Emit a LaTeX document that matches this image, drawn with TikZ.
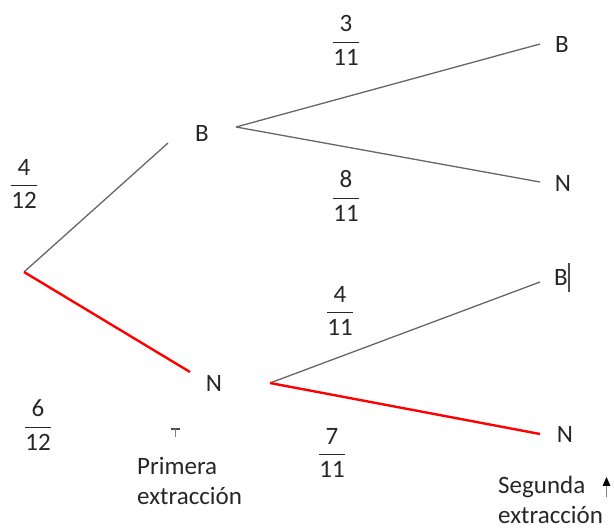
\documentclass[tikz,border=0pt]{standalone}
\usepackage{fontspec}
\setmainfont{Carlito}
\newcommand{\myfr}[2]{\ensuremath{\displaystyle\frac{\mbox{#1}}{\mbox{#2}}}}
\begin{document}
\begin{tikzpicture}[x=1pt,y=-1pt,
  every node/.style={font=\fontsize{25}{30}\selectfont, text=black!85, inner sep=1pt},
  gline/.style={draw=black!60, line width=1.3pt},
  rline/.style={draw=red, line width=2.4pt},
  lbl/.style={align=left, anchor=west}]
\useasboundingbox (0,0) rectangle (614,529);
\coordinate (root) at (24,272);
\coordinate (bend) at (168,143);
\coordinate (nend) at (190,372);
\node (B1) at (202,133) {B};
\node (N1) at (214,383) {N};
\coordinate (bs) at (236,127);
\coordinate (ns) at (270,383);
\node (BB) at (562,44) {B};
\node (BN) at (563,183) {N};
\node (NB) at (561,277) {B};
\node (NN) at (565,434) {N};
\coordinate (bbe) at (540,44);
\coordinate (bne) at (540,182);
\coordinate (nbe) at (540,282);
\coordinate (nne) at (540,434);
\draw[gline] (root) -- (bend);
\draw[rline] (root) -- (nend);
\draw[gline] (bs) -- (bbe);
\draw[gline] (bs) -- (bne);
\draw[gline] (ns) -- (nbe);
\draw[rline] (ns) -- (nne);
\node (f1) at (346,40) {\myfr{3}{11}};
\node (f2) at (346,196) {\myfr{8}{11}};
\node (f3) at (340,311) {\myfr{4}{11}};
\node (f4) at (332,453) {\myfr{7}{11}};
\node (f5) at (24,184) {\myfr{4}{12}};
\node (f6) at (38,425) {\myfr{6}{12}};
\node[lbl] (prim) at (136,481) {Primera\\extracción};
\node[lbl] (seg) at (497,500) {Segunda\\extracción};
% small marks
\draw[black!70, line width=1.6pt] (171,429) -- (180,429);
\draw[black!50, line width=1pt] (175.5,429) -- (175.5,437);
\draw[black!50, line width=1pt] (606.5,484) -- (606.5,497);
\fill[black] (602.5,486) -- (610.5,486) -- (606.5,477) -- cycle;
\draw[black!70, line width=1.3pt] (569,263) -- (569,292);
\end{tikzpicture}
\end{document}
